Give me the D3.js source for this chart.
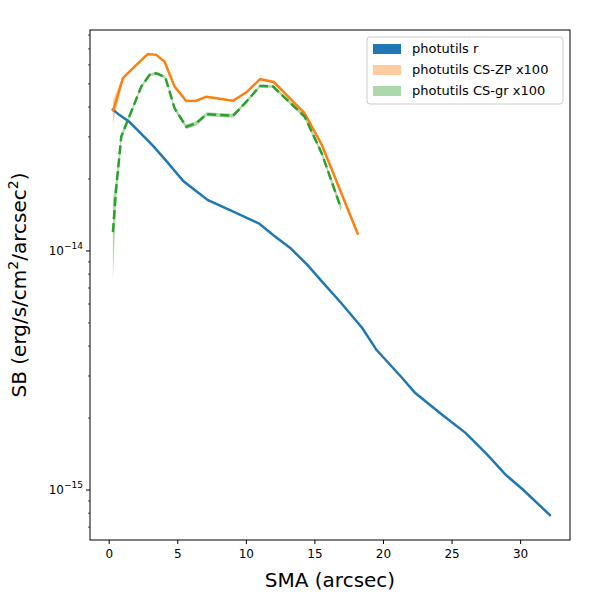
<!DOCTYPE html>
<html>
<head>
<meta charset="UTF-8">
<script src="https://d3js.org/d3.v7.min.js"></script>
<style>
  body { margin: 0; background: #fff; font-family: 'DejaVu Sans', sans-serif; }
</style>
</head>
<body>
<svg id="chart" width="600" height="600"></svg>
<script>
// profile r band
const smaR = [0.2, 0.73, 1.46, 2.34, 3.2, 4.16, 5.4, 7.2, 9.05, 10.95, 12.0, 13.2, 14.45, 15.6, 16.85, 18.45, 19.5, 21.3, 22.3, 24.3, 26.0, 27.5, 28.9, 30.2, 32.2];
const sbR = [3.93e-14, 3.71e-14, 3.47e-14, 3.09e-14, 2.75e-14, 2.38e-14, 1.96e-14, 1.63e-14, 1.46e-14, 1.30e-14, 1.16e-14, 1.03e-14, 8.74e-15, 7.35e-15, 6.12e-15, 4.76e-15, 3.85e-15, 2.97e-15, 2.55e-15, 2.06e-15, 1.73e-15, 1.42e-15, 1.16e-15, 1.0e-15, 7.79e-16];

// CS-ZP x100
const smaZP = [0.27, 1.0, 1.85, 2.82, 3.43, 4.04, 4.77, 5.62, 6.35, 7.08, 9.03, 10.0, 11.0, 12.0, 14.25, 15.5, 18.15];
const sbZP = [3.83e-14, 5.28e-14, 5.90e-14, 6.67e-14, 6.61e-14, 6.19e-14, 4.87e-14, 4.24e-14, 4.25e-14, 4.42e-14, 4.25e-14, 4.61e-14, 5.23e-14, 5.09e-14, 3.77e-14, 2.78e-14, 1.17e-14];
const errZP = [4.5e-15, 6e-16, 5e-16, 5e-16, 5e-16, 5e-16, 5e-16, 4e-16, 4e-16, 4e-16, 4e-16, 4e-16, 4e-16, 4e-16, 4e-16, 3e-16, 2e-16];

// CS-gr x100
const smaGR = [0.27, 0.5, 0.88, 1.36, 2.34, 2.94, 3.43, 4.09, 4.77, 5.62, 6.35, 7.08, 9.03, 10.0, 11.0, 11.95, 14.25, 15.5, 16.9];
const sbGR = [1.20e-14, 1.80e-14, 3.01e-14, 3.53e-14, 4.87e-14, 5.45e-14, 5.54e-14, 5.33e-14, 3.95e-14, 3.31e-14, 3.42e-14, 3.73e-14, 3.68e-14, 4.21e-14, 4.90e-14, 4.87e-14, 3.65e-14, 2.56e-14, 1.51e-14];
const errGR = [4.4e-15, 2e-15, 1e-15, 8e-16, 8e-16, 8e-16, 8e-16, 8e-16, 8e-16, 7e-16, 7e-16, 7e-16, 7e-16, 7e-16, 7e-16, 7e-16, 7e-16, 6e-16, 5e-16];

const xTicks = [0, 5, 10, 15, 20, 25, 30];
const legendLabels = ["photutils r", "photutils CS-ZP x100", "photutils CS-gr x100"];
const colors = ["#1f77b4", "#ff7f0e", "#2ca02c"];

const L = 90, R = 570, T = 30, B = 540;
const svg = d3.select("#chart");

const x = d3.scaleLinear().domain([-1.4, 33.6]).range([L, R]);
const y = d3.scaleLog().domain([6.18e-16, 8.4e-14]).range([B, T]);

// bands
const area = d3.area().x(d => x(d[0])).y0(d => y(d[1] - d[2])).y1(d => y(d[1] + d[2]));
svg.append("path").datum(smaZP.map((s, i) => [s, sbZP[i], errZP[i]]))
  .attr("d", area).attr("fill", colors[1]).attr("opacity", 0.4);
svg.append("path").datum(smaGR.map((s, i) => [s, sbGR[i], errGR[i]]))
  .attr("d", area).attr("fill", colors[2]).attr("opacity", 0.4);

const line = d3.line().x(d => x(d[0])).y(d => y(d[1]));
svg.append("path").datum(smaR.map((s, i) => [s, sbR[i]]))
  .attr("d", line).attr("fill", "none").attr("stroke", colors[0]).attr("stroke-width", 2.5);
svg.append("path").datum(smaZP.map((s, i) => [s, sbZP[i]]))
  .attr("d", line).attr("fill", "none").attr("stroke", colors[1]).attr("stroke-width", 2.5);
svg.append("path").datum(smaGR.map((s, i) => [s, sbGR[i]]))
  .attr("d", line).attr("fill", "none").attr("stroke", colors[2]).attr("stroke-width", 2.5)
  .attr("stroke-dasharray", "9,4");

// frame
svg.append("rect").attr("x", L).attr("y", T).attr("width", R - L).attr("height", B - T)
  .attr("fill", "none").attr("stroke", "#000").attr("stroke-width", 1);

// x axis
const xa = svg.append("g");
xTicks.forEach(t => {
  xa.append("line").attr("x1", x(t)).attr("x2", x(t)).attr("y1", B).attr("y2", B + 4).attr("stroke", "#000");
  xa.append("text").attr("x", x(t)).attr("y", B + 18).attr("text-anchor", "middle")
    .attr("font-size", 12).text(t);
});
svg.append("text").attr("x", (L + R) / 2).attr("y", 587).attr("text-anchor", "middle")
  .attr("font-size", 20).text("SMA (arcsec)");

// y axis (log)
const ya = svg.append("g");
[-16, -15, -14].forEach(e => {
  for (let m = 1; m < 10; m++) {
    const v = m * Math.pow(10, e);
    if (v < y.domain()[0] || v > y.domain()[1]) continue;
    const major = m === 1;
    ya.append("line").attr("x1", L).attr("x2", L - (major ? 4 : 2)).attr("y1", y(v)).attr("y2", y(v))
      .attr("stroke", "#000").attr("stroke-width", major ? 1 : 0.7);
    if (major) {
      const t = ya.append("text").attr("x", L - 7).attr("y", y(v) + 4).attr("text-anchor", "end").attr("font-size", 12);
      t.append("tspan").text("10");
      t.append("tspan").attr("dy", -6).attr("font-size", 9).text("\u2212" + Math.abs(e));
    }
  }
});
const yl = svg.append("text").attr("transform", `translate(26,${(T + B) / 2}) rotate(-90)`)
  .attr("text-anchor", "middle").attr("font-size", 20);
yl.append("tspan").text("SB (erg/s/cm");
yl.append("tspan").attr("dy", -8).attr("font-size", 14).text("2");
yl.append("tspan").attr("dy", 8).text("/arcsec");
yl.append("tspan").attr("dy", -8).attr("font-size", 14).text("2");
yl.append("tspan").attr("dy", 8).text(")");

// legend
const lg = svg.append("g").attr("transform", "translate(367,37)");
lg.append("rect").attr("width", 196).attr("height", 67).attr("rx", 3)
  .attr("fill", "#fff").attr("fill-opacity", 0.8).attr("stroke", "#ccc");
legendLabels.forEach((lab, i) => {
  lg.append("rect").attr("x", 6).attr("y", 7 + i * 21).attr("width", 28).attr("height", 10)
    .attr("fill", colors[i]).attr("opacity", i === 0 ? 1 : 0.4);
  lg.append("text").attr("x", 45).attr("y", 16 + i * 21).attr("font-size", 13).text(lab);
});
</script>
</body>
</html>
